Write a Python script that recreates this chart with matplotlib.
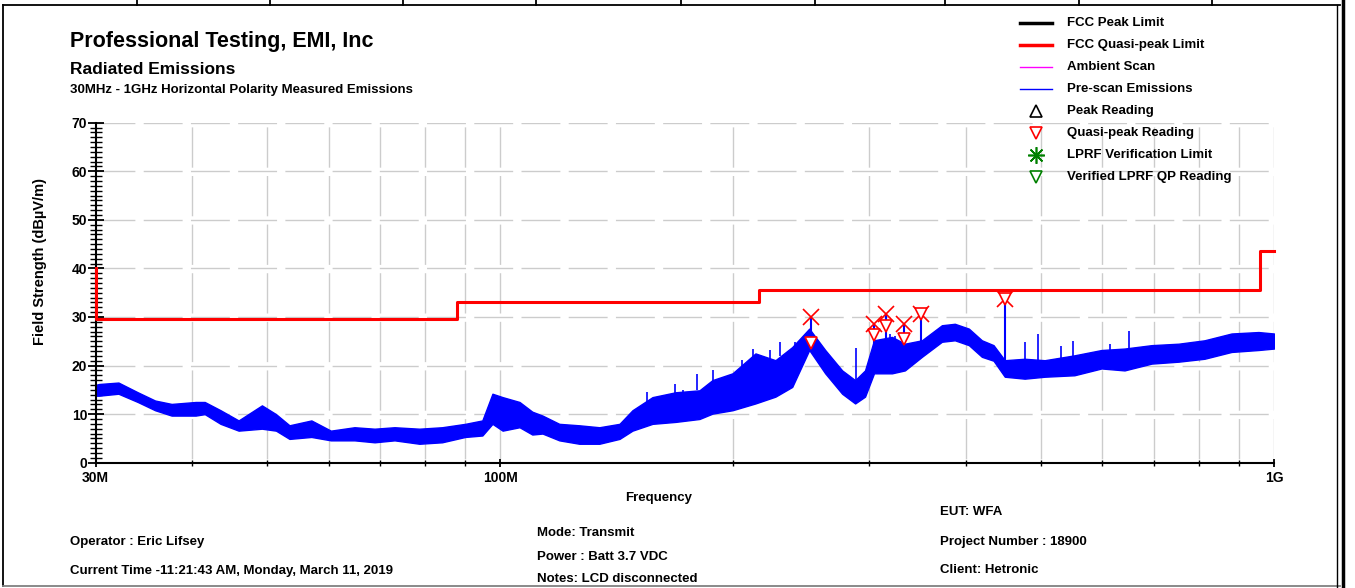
import matplotlib
matplotlib.use("Agg")
import matplotlib.pyplot as plt
from matplotlib.lines import Line2D
import numpy as np

plt.rcParams['font.family'] = ['Liberation Sans', 'DejaVu Sans']
plt.rcParams['font.weight'] = 'bold'

# FCC quasi-peak limit (MHz, dBuV/m)
limit_freq = [30, 30, 88, 88, 216, 216, 960, 960, 1000]
limit_level = [40.0, 29.5, 29.5, 33.1, 33.1, 35.6, 35.6, 43.5, 43.5]

# pre-scan envelope
scan_freq = [30.0, 30.3, 32.1, 34.0, 35.8, 37.6, 40.4, 41.5, 43.5, 45.9, 49.2, 51.3,
             53.4, 57.0, 60.4, 64.8, 68.8, 73.0, 78.6, 84.1, 90.1, 94.8, 97.7, 100.7,
             105.9, 110.0, 113.4, 119.2, 126.5, 134.3, 142.6, 148.2, 157.3, 168.5,
             180.9, 188.0, 199.6, 213.7, 226.8, 238.4, 250.8, 263.0, 276.6, 287.5,
             296.1, 304.1, 320.8, 333.4, 350.7, 372.2, 386.8, 403.3, 419.2, 434.0,
             448.8, 476.2, 505.4, 552.1, 598.5, 641.0, 694.7, 752.8, 813.2, 881.2,
             954.9, 1000.0]
scan_high = [16.0, 16.2, 16.5, 14.5, 12.8, 12.1, 12.5, 12.5, 10.8, 8.7, 11.8, 10.0,
             7.7, 8.7, 6.6, 7.3, 7.0, 7.3, 7.0, 7.3, 8.0, 8.7, 14.2, 13.5,
             12.5, 10.5, 9.7, 8.0, 7.7, 7.3, 8.0, 10.8, 13.5, 14.5,
             14.9, 17.0, 18.4, 22.5, 21.1, 23.8, 27.6, 23.2, 19.0, 17.0,
             19.0, 25.2, 25.9, 24.5, 25.2, 28.3, 28.6, 27.6, 25.2, 24.2,
             21.1, 21.4, 21.1, 22.1, 23.2, 23.5, 24.2, 24.5, 25.2, 26.6,
             26.9, 26.6]
scan_low = [13.8, 13.8, 14.2, 12.5, 10.8, 9.7, 9.7, 10.0, 8.0, 6.6, 7.0, 6.6,
            4.9, 5.3, 4.6, 4.6, 4.2, 4.6, 3.9, 4.2, 5.3, 5.6, 8.0, 6.6,
            7.3, 5.8, 6.0, 4.6, 3.9, 3.9, 4.9, 6.6, 8.0, 8.4,
            9.0, 10.1, 10.8, 12.2, 13.6, 15.6, 23.2, 18.4, 14.2, 12.2,
            13.6, 18.4, 18.4, 19.0, 21.8, 24.9, 25.2, 24.2, 21.8, 21.0,
            17.7, 17.3, 17.7, 18.0, 19.4, 19.0, 20.4, 20.8, 21.4, 22.8,
            23.2, 23.5]

# narrow spikes in the scan
spike_freq = [154.6, 168.0, 172.1, 179.4, 188.2, 205.1, 211.9, 223.0, 229.7, 240.2,
              288.1, 319.0, 323.8, 476.7, 495.5, 530.7, 550.0, 614.3, 650.2]
spike_top = [14.5, 16.2, 14.9, 18.3, 19.0, 21.1, 23.5, 23.2, 24.9, 24.9,
             23.7, 26.6, 26.0, 24.9, 26.4, 24.0, 25.0, 24.5, 27.1]
spike_base = [12.5, 14.0, 14.0, 14.9, 16.0, 19.0, 21.0, 21.0, 22.0, 23.0,
              17.0, 25.0, 24.5, 21.0, 21.0, 21.5, 21.8, 23.0, 23.5]

# readings
mk_freq = [251.9, 304.4, 314.9, 332.6, 349.3, 449.4]
pk_level = [30.0, 28.6, 30.7, 28.5, 30.7, 33.8]
qp_level = [24.7, 26.2, 28.1, 25.5, 30.7, 33.8]
mk_base = [26.0, 24.0, 25.0, 24.0, 24.5, 21.0]

W, H = 1355, 588
fig = plt.figure(figsize=(W / 100, H / 100), dpi=100)


def fx(x):
    return x / W


def fy(y):
    return 1 - y / H


ax = fig.add_axes([fx(95.7), fy(462.7), fx(1274) - fx(95.7), fy(122.7) - fy(462.7)])
ax.set_xscale('log')
ax.set_xlim(30, 1000)
ax.set_ylim(0, 70)

# grid
grid_x = [40, 50, 60, 70, 80, 90, 100, 200, 300, 400, 500, 600, 700, 800, 900, 1000]
for g in grid_x:
    ax.axvline(g, color='#cccccc', lw=1, ls=(32, (29, 6)), zorder=0)
for g in range(10, 80, 10):
    ax.axhline(g, color='#cccccc', lw=1, ls=(0, (28, 6)), zorder=0)

ax.fill_between(scan_freq, scan_low, scan_high, color='#0000ff', lw=1.0, zorder=2)
ax.vlines(spike_freq, spike_base, spike_top, color='#0000ff', lw=1.2, zorder=2)
ax.vlines(mk_freq, mk_base, pk_level, color='#0000ff', lw=1.5, zorder=2)

ax.plot(limit_freq, limit_level, color='#ff0000', lw=2.2, zorder=3, clip_on=False)

ax.plot(mk_freq, pk_level, 'x', color='#ff0000', ms=12, mew=1.2, zorder=4)
ax.plot(mk_freq, qp_level, 'v', color='#ff0000', mfc='white', ms=9, mew=1.2, zorder=5)

# axes style
for s in ['top', 'right']:
    ax.spines[s].set_visible(False)
ax.spines['left'].set_linewidth(1.5)
ax.spines['bottom'].set_linewidth(1.5)
ax.set_yticks(range(0, 80, 10))
ax.set_yticks(range(0, 71), minor=True)
ax.set_xticks([30, 100, 1000])
ax.set_xticklabels(['30M', '100M', '1G'])
ax.set_xticks([40, 50, 60, 70, 80, 90, 200, 300, 400, 500, 600, 700, 800, 900], minor=True)
ax.xaxis.set_minor_formatter(plt.NullFormatter())
ax.tick_params(axis='y', which='major', direction='inout', length=12, width=1.3,
               labelsize=10, pad=0)
ax.tick_params(axis='y', which='minor', direction='inout', length=8, width=1.0)
ax.tick_params(axis='x', which='major', direction='inout', length=6, width=1.3,
               labelsize=10, pad=3)
ax.tick_params(axis='x', which='minor', direction='inout', length=5, width=1.0)
for lab in ax.get_xticklabels() + ax.get_yticklabels():
    lab.set_fontweight('bold')

fig.text(fx(40), fy(262), 'Field Strength (dBµV/m)', rotation=90, ha='center',
         va='center', fontsize=10.5, fontweight='bold')
fig.text(fx(659), fy(498), 'Frequency', ha='center', va='center', fontsize=9.5,
         fontweight='bold')

# titles
fig.text(fx(70), fy(42), 'Professional Testing, EMI, Inc', ha='left', va='center',
         fontsize=15.5, fontweight='bold')
fig.text(fx(70), fy(69), 'Radiated Emissions', ha='left', va='center',
         fontsize=12.5, fontweight='bold')
fig.text(fx(70), fy(90), '30MHz - 1GHz Horizontal Polarity Measured Emissions',
         ha='left', va='center', fontsize=9.5, fontweight='bold')

# legend, drawn by hand
leg_labels = ['FCC Peak Limit', 'FCC Quasi-peak Limit', 'Ambient Scan', 'Pre-scan Emissions',
              'Peak Reading', 'Quasi-peak Reading', 'LPRF Verification Limit',
              'Verified LPRF QP Reading']
leg_y = [23, 45, 67, 89, 111, 133, 155, 177]
leg_styles = [dict(color='black', lw=2.5), dict(color='#ff0000', lw=2.5),
              dict(color='#ff00ff', lw=1), dict(color='#0000ff', lw=1),
              dict(color='black', marker='^', mfc='white', ms=8, mew=1.2, ls='none'),
              dict(color='#ff0000', marker='v', mfc='white', ms=8, mew=1.2, ls='none'),
              dict(color='#008000', marker=(8, 2, 0), ms=12, mew=1.2, ls='none'),
              dict(color='#008000', marker='v', mfc='white', ms=8, mew=1.2, ls='none')]
for lab, y, st in zip(leg_labels, leg_y, leg_styles):
    if st.get('ls') == 'none':
        fig.add_artist(Line2D([fx(1036)], [fy(y)], transform=fig.transFigure, **st))
    else:
        fig.add_artist(Line2D([fx(1020), fx(1052)], [fy(y), fy(y)],
                              transform=fig.transFigure, **st))
    fig.text(fx(1067), fy(y), lab, ha='left', va='center', fontsize=9.5,
             fontweight='bold')

# footer info
info = [(70, 542, 'Operator : Eric Lifsey'),
        (70, 571, 'Current Time -11:21:43 AM, Monday, March 11, 2019'),
        (537, 533, 'Mode: Transmit'),
        (537, 557, 'Power : Batt 3.7 VDC'),
        (537, 579, 'Notes: LCD disconnected'),
        (940, 512, 'EUT: WFA'),
        (940, 542, 'Project Number : 18900'),
        (940, 570, 'Client: Hetronic')]
for x, y, t in info:
    fig.text(fx(x), fy(y), t, ha='left', va='center', fontsize=9.5, fontweight='bold')

# page frame
fig.add_artist(Line2D([fx(3), fx(1340)], [fy(5), fy(5)], color='black', lw=1.3,
                      transform=fig.transFigure))
fig.add_artist(Line2D([fx(3), fx(3)], [fy(5), fy(586)], color='black', lw=1.3,
                      transform=fig.transFigure))
fig.add_artist(Line2D([fx(3), fx(1340)], [fy(586), fy(586)], color='#808080', lw=1.3,
                      transform=fig.transFigure))
fig.add_artist(Line2D([fx(1337), fx(1337)], [fy(5), fy(588)], color='black', lw=1,
                      transform=fig.transFigure))
fig.add_artist(Line2D([fx(1343), fx(1343)], [fy(0), fy(588)], color='black', lw=2.5,
                      transform=fig.transFigure))
for x in [137, 270, 403, 536, 681, 815, 945, 1079, 1212]:
    fig.add_artist(Line2D([fx(x), fx(x)], [fy(0), fy(5)], color='black', lw=1.3,
                          transform=fig.transFigure))

fig.savefig('out.png', dpi=100)
